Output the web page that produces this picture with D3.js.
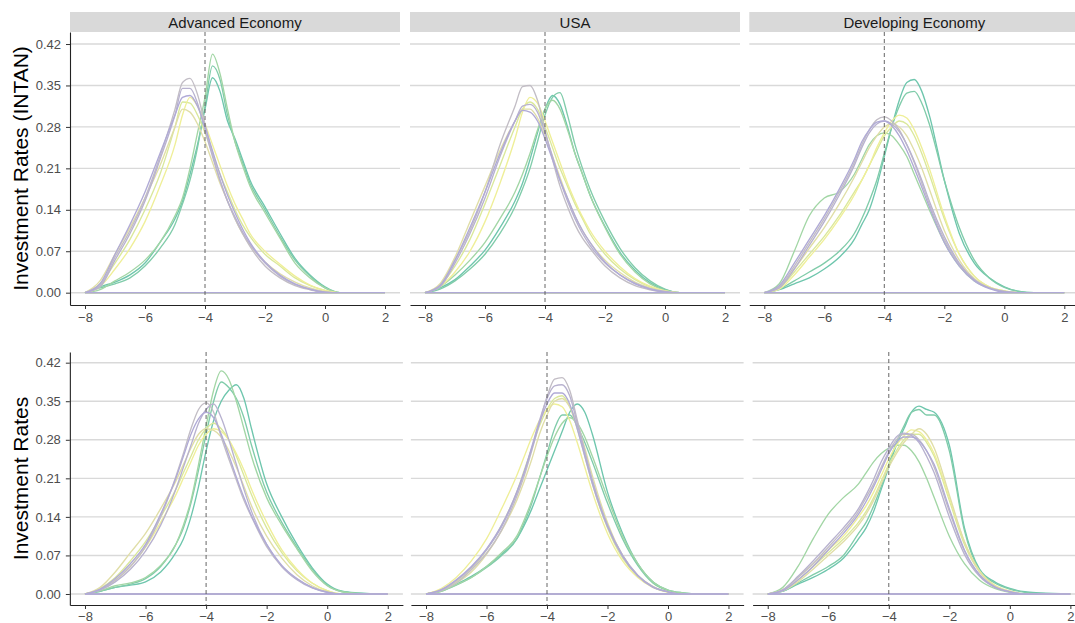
<!DOCTYPE html>
<html>
<head>
<meta charset="utf-8">
<script src="https://cdn.jsdelivr.net/npm/d3@7"></script>
<style>
body{margin:0;background:#fff}
svg{display:block}
text{font-family:Helvetica,"Liberation Sans",Arial,sans-serif}
</style>
</head>
<body>
<script>
var xGrid=[-8,-7.5,-7,-6.5,-6,-5.5,-5,-4.75,-4.5,-4.25,-4,-3.75,-3.5,-3.25,-3,-2.75,-2.5,-2,-1.5,-1,-0.5,0,0.5,1,2]
var facets=["Advanced Economy","USA","Developing Economy"]
var rowTitles=["Investment Rates (INTAN)","Investment Rates"]
var yTicks=[0,0.07,0.14,0.21,0.28,0.35,0.42]
var xTicks=[-8,-6,-4,-2,0,2]
var cutoff=-4

// top row: INTAN
var advIntan=[
 [0,0.01,0.018,0.03,0.05,0.085,0.125,0.155,0.2,0.25,0.31,0.363,0.34,0.29,0.26,0.225,0.19,0.145,0.1,0.058,0.03,0.01,0,0,0],
 [0,0.008,0.015,0.025,0.045,0.075,0.115,0.15,0.19,0.245,0.315,0.383,0.36,0.3,0.255,0.22,0.185,0.14,0.095,0.055,0.028,0.008,0,0,0],
 [0,0.005,0.02,0.035,0.055,0.085,0.13,0.16,0.21,0.27,0.33,0.403,0.37,0.31,0.255,0.215,0.18,0.135,0.092,0.05,0.025,0.008,0,0,0],
 [0,0.015,0.05,0.09,0.14,0.2,0.28,0.322,0.32,0.3,0.27,0.235,0.2,0.17,0.14,0.115,0.095,0.065,0.045,0.025,0.012,0.004,0,0,0],
 [0,0.01,0.04,0.075,0.12,0.18,0.25,0.3,0.33,0.315,0.285,0.25,0.215,0.18,0.15,0.125,0.1,0.07,0.048,0.028,0.013,0.004,0,0,0],
 [0,0.02,0.065,0.11,0.16,0.215,0.28,0.31,0.305,0.285,0.255,0.22,0.185,0.155,0.125,0.1,0.08,0.052,0.032,0.018,0.008,0.002,0,0,0],
 [0,0.012,0.06,0.105,0.16,0.23,0.31,0.355,0.362,0.335,0.285,0.235,0.19,0.155,0.125,0.1,0.078,0.045,0.025,0.012,0.005,0,0,0,0],
 [0,0.01,0.055,0.1,0.155,0.225,0.3,0.345,0.345,0.32,0.275,0.23,0.19,0.155,0.128,0.103,0.082,0.05,0.028,0.014,0.006,0.001,0,0,0],
 [0,0.015,0.065,0.115,0.17,0.235,0.3,0.33,0.333,0.315,0.28,0.24,0.2,0.165,0.135,0.108,0.085,0.052,0.03,0.015,0.006,0.001,0,0,0]
]
var usaIntan=[
 [0,0.008,0.022,0.045,0.072,0.11,0.155,0.185,0.225,0.27,0.31,0.333,0.318,0.28,0.235,0.2,0.165,0.112,0.068,0.038,0.017,0.005,0,0,0],
 [0,0.006,0.02,0.04,0.065,0.1,0.145,0.175,0.21,0.255,0.3,0.33,0.338,0.3,0.25,0.21,0.175,0.12,0.075,0.042,0.02,0.006,0,0,0],
 [0,0.01,0.03,0.055,0.085,0.125,0.17,0.2,0.235,0.275,0.31,0.325,0.31,0.275,0.235,0.2,0.165,0.11,0.065,0.035,0.015,0.004,0,0,0],
 [0,0.012,0.045,0.09,0.15,0.215,0.28,0.31,0.322,0.31,0.28,0.245,0.21,0.18,0.15,0.125,0.1,0.065,0.04,0.022,0.01,0.003,0,0,0],
 [0,0.01,0.035,0.07,0.12,0.185,0.26,0.305,0.33,0.32,0.29,0.255,0.22,0.185,0.155,0.128,0.105,0.07,0.044,0.024,0.011,0.003,0,0,0],
 [0,0.015,0.06,0.12,0.18,0.24,0.29,0.31,0.31,0.295,0.265,0.23,0.195,0.16,0.13,0.105,0.085,0.055,0.034,0.018,0.008,0.002,0,0,0],
 [0,0.012,0.055,0.105,0.17,0.25,0.315,0.348,0.35,0.325,0.275,0.225,0.18,0.145,0.115,0.092,0.075,0.045,0.025,0.012,0.005,0.001,0,0,0],
 [0,0.01,0.05,0.1,0.16,0.23,0.29,0.315,0.318,0.305,0.27,0.23,0.19,0.155,0.125,0.1,0.08,0.05,0.03,0.016,0.007,0.002,0,0,0],
 [0,0.012,0.055,0.11,0.17,0.235,0.29,0.308,0.305,0.29,0.26,0.225,0.19,0.16,0.13,0.105,0.085,0.052,0.03,0.015,0.006,0.001,0,0,0]
]
var devIntan=[
 [0,0.005,0.015,0.025,0.04,0.06,0.09,0.115,0.14,0.18,0.23,0.28,0.325,0.355,0.36,0.34,0.3,0.19,0.1,0.05,0.025,0.01,0.002,0,0],
 [0,0.006,0.02,0.035,0.05,0.07,0.1,0.125,0.155,0.19,0.235,0.28,0.315,0.337,0.34,0.32,0.285,0.19,0.11,0.055,0.025,0.009,0.002,0,0],
 [0,0.015,0.07,0.13,0.16,0.17,0.2,0.225,0.25,0.265,0.27,0.265,0.25,0.23,0.2,0.17,0.14,0.085,0.045,0.02,0.008,0.002,0,0,0],
 [0,0.008,0.035,0.065,0.095,0.13,0.17,0.19,0.215,0.24,0.265,0.28,0.29,0.285,0.265,0.235,0.2,0.125,0.065,0.028,0.01,0.003,0,0,0],
 [0,0.006,0.03,0.06,0.09,0.125,0.165,0.19,0.215,0.245,0.27,0.29,0.3,0.295,0.275,0.245,0.21,0.13,0.065,0.028,0.01,0.003,0,0,0],
 [0,0.01,0.04,0.075,0.11,0.15,0.195,0.22,0.245,0.265,0.28,0.285,0.28,0.265,0.24,0.21,0.175,0.105,0.055,0.024,0.009,0.002,0,0,0],
 [0,0.01,0.045,0.085,0.125,0.17,0.22,0.25,0.275,0.292,0.297,0.29,0.275,0.25,0.22,0.185,0.15,0.09,0.048,0.022,0.008,0.002,0,0,0],
 [0,0.008,0.04,0.08,0.12,0.165,0.215,0.245,0.27,0.285,0.29,0.285,0.272,0.25,0.222,0.19,0.155,0.095,0.05,0.022,0.008,0.002,0,0,0],
 [0,0.012,0.05,0.09,0.13,0.175,0.225,0.255,0.275,0.288,0.29,0.282,0.265,0.24,0.21,0.178,0.145,0.085,0.045,0.02,0.007,0.001,0,0,0]
]
// bottom row
var adv=[
 [0,0.005,0.012,0.016,0.022,0.04,0.075,0.1,0.14,0.195,0.26,0.315,0.35,0.37,0.38,0.355,0.3,0.2,0.14,0.09,0.048,0.018,0.005,0.002,0],
 [0,0.005,0.012,0.018,0.028,0.05,0.09,0.12,0.165,0.225,0.29,0.35,0.385,0.375,0.355,0.32,0.27,0.185,0.13,0.085,0.045,0.016,0.004,0.001,0],
 [0,0.006,0.015,0.02,0.03,0.052,0.09,0.125,0.17,0.235,0.305,0.37,0.405,0.39,0.35,0.3,0.25,0.175,0.125,0.082,0.042,0.015,0.004,0.001,0],
 [0,0.01,0.03,0.06,0.095,0.14,0.19,0.22,0.25,0.28,0.3,0.31,0.3,0.28,0.25,0.215,0.18,0.12,0.075,0.042,0.02,0.006,0,0,0],
 [0,0.008,0.025,0.05,0.085,0.13,0.18,0.21,0.24,0.27,0.29,0.3,0.295,0.28,0.255,0.225,0.19,0.13,0.08,0.045,0.02,0.006,0,0,0],
 [0,0.012,0.04,0.075,0.11,0.155,0.205,0.235,0.265,0.29,0.3,0.297,0.285,0.26,0.23,0.195,0.16,0.105,0.065,0.035,0.015,0.004,0,0,0],
 [0,0.008,0.025,0.05,0.086,0.14,0.213,0.255,0.3,0.335,0.347,0.33,0.285,0.245,0.207,0.17,0.14,0.086,0.05,0.027,0.012,0.004,0,0,0],
 [0,0.007,0.022,0.045,0.078,0.125,0.19,0.23,0.27,0.31,0.335,0.345,0.32,0.28,0.235,0.19,0.15,0.09,0.05,0.026,0.011,0.003,0,0,0],
 [0,0.009,0.028,0.055,0.09,0.145,0.21,0.25,0.29,0.318,0.33,0.32,0.29,0.252,0.212,0.175,0.142,0.09,0.052,0.028,0.012,0.003,0,0,0]
]
var usa=[
 [0,0.006,0.018,0.032,0.05,0.072,0.1,0.125,0.155,0.19,0.225,0.26,0.295,0.33,0.345,0.33,0.29,0.185,0.11,0.055,0.022,0.007,0.002,0,0],
 [0,0.005,0.016,0.03,0.048,0.07,0.1,0.13,0.165,0.21,0.255,0.3,0.325,0.325,0.305,0.275,0.24,0.165,0.1,0.052,0.02,0.006,0.001,0,0],
 [0,0.005,0.017,0.03,0.05,0.075,0.105,0.135,0.17,0.21,0.25,0.285,0.31,0.32,0.31,0.285,0.25,0.175,0.105,0.055,0.022,0.007,0.002,0,0],
 [0,0.008,0.022,0.045,0.08,0.125,0.185,0.225,0.265,0.305,0.335,0.355,0.36,0.34,0.3,0.25,0.2,0.12,0.065,0.032,0.013,0.004,0,0,0],
 [0,0.01,0.03,0.06,0.1,0.155,0.215,0.25,0.285,0.315,0.335,0.345,0.34,0.315,0.275,0.23,0.185,0.11,0.06,0.03,0.012,0.003,0,0,0],
 [0,0.007,0.02,0.04,0.072,0.115,0.17,0.205,0.245,0.29,0.325,0.35,0.355,0.34,0.31,0.265,0.215,0.13,0.07,0.034,0.014,0.004,0,0,0],
 [0,0.006,0.02,0.044,0.074,0.116,0.177,0.215,0.261,0.31,0.358,0.39,0.393,0.37,0.316,0.26,0.207,0.125,0.07,0.033,0.012,0.004,0,0,0],
 [0,0.007,0.024,0.048,0.08,0.122,0.183,0.222,0.268,0.315,0.355,0.378,0.38,0.36,0.31,0.255,0.205,0.125,0.07,0.034,0.013,0.004,0,0,0],
 [0,0.008,0.026,0.05,0.082,0.125,0.185,0.222,0.265,0.31,0.345,0.365,0.365,0.345,0.3,0.25,0.2,0.122,0.068,0.033,0.013,0.004,0,0,0]
]
var dev=[
 [0,0.005,0.018,0.03,0.045,0.065,0.1,0.12,0.15,0.19,0.23,0.27,0.3,0.33,0.341,0.335,0.33,0.27,0.12,0.045,0.022,0.01,0.004,0.002,0],
 [0,0.005,0.02,0.035,0.05,0.07,0.11,0.13,0.16,0.195,0.235,0.275,0.305,0.33,0.335,0.325,0.325,0.26,0.115,0.042,0.02,0.009,0.003,0.001,0],
 [0,0.012,0.05,0.1,0.145,0.175,0.2,0.22,0.24,0.255,0.265,0.27,0.27,0.26,0.24,0.21,0.175,0.105,0.055,0.025,0.01,0.003,0,0,0],
 [0,0.006,0.025,0.05,0.075,0.1,0.13,0.15,0.175,0.205,0.235,0.26,0.28,0.29,0.29,0.275,0.25,0.17,0.09,0.04,0.015,0.005,0,0,0],
 [0,0.008,0.03,0.055,0.08,0.105,0.14,0.16,0.185,0.215,0.245,0.27,0.287,0.298,0.295,0.28,0.255,0.175,0.095,0.042,0.016,0.005,0,0,0],
 [0,0.006,0.022,0.045,0.07,0.095,0.125,0.145,0.17,0.2,0.23,0.255,0.275,0.29,0.3,0.29,0.265,0.18,0.095,0.04,0.015,0.005,0,0,0],
 [0,0.007,0.03,0.055,0.085,0.115,0.15,0.175,0.2,0.23,0.258,0.28,0.29,0.29,0.28,0.26,0.23,0.15,0.078,0.034,0.013,0.004,0,0,0],
 [0,0.008,0.032,0.06,0.09,0.12,0.155,0.18,0.208,0.24,0.265,0.285,0.292,0.288,0.275,0.25,0.22,0.14,0.072,0.032,0.012,0.004,0,0,0],
 [0,0.006,0.026,0.05,0.08,0.11,0.145,0.168,0.195,0.225,0.255,0.275,0.285,0.285,0.278,0.26,0.235,0.155,0.08,0.035,0.013,0.004,0,0,0]
]
var panels=[[advIntan,usaIntan,devIntan],[adv,usa,dev]]

// layout of the two rows (the lower row was a slightly larger plot)
var rows=[
  {top:32,bottom:305,ydom:[-0.0208,0.4403],cols:[[70,400],[410,740],[749.3,1079.3]],strip:true,pad:4},
  {top:352,bottom:605,ydom:[-0.02,0.4394],cols:[[69.85,402.9],[410.9,743.6],[752.6,1085.5]],strip:false,pad:3}
]

// teal -> yellow -> lavender ramp, one colour per curve (drawn in that order)
var ramp=d3.scaleLinear().domain([0,0.5,1]).range(["#6ec6ad","#efef98","#b0aad6"])
var curveT=[0,0.07,0.2,0.42,0.5,0.62,0.86,0.94,1]

var svg=d3.select("body").append("svg")
  .attr("width",1075)
  .attr("height",623)

rows.forEach(function(row,r){
  var y=d3.scaleLinear().domain(row.ydom).range([row.bottom,row.top])

  row.cols.forEach(function(c,k){
    var x=d3.scaleLinear().domain([-8.5,2.5]).range(c)
    var g=svg.append("g")

    if(row.strip){
      g.append("rect")
        .attr("x",c[0]).attr("y",12)
        .attr("width",c[1]-c[0]).attr("height",20)
        .attr("fill","#d9d9d9")
      g.append("text")
        .attr("x",(c[0]+c[1])/2).attr("y",27.5)
        .attr("text-anchor","middle")
        .attr("font-size",15)
        .attr("fill","#1a1a1a")
        .text(facets[k])
    }

    // horizontal grid
    g.selectAll(".grid").data(yTicks).enter().append("line")
      .attr("x1",c[0]).attr("x2",c[1])
      .attr("y1",function(d){return y(d)})
      .attr("y2",function(d){return y(d)})
      .attr("stroke","#d9d9d9")
      .attr("stroke-width",1.4)

    // density outlines (closed at y = 0, like geom_density)
    var area=d3.area()
      .x(function(d,i){return x(xGrid[i])})
      .y0(y(0))
      .y1(function(d){return y(d)})
      .curve(d3.curveMonotoneX)

    panels[r][k].forEach(function(vals,i){
      g.append("path")
        .attr("d",area(vals))
        .attr("fill","none")
        .attr("stroke",ramp(curveT[i]))
        .attr("stroke-width",1.35)
    })

    // cutoff line
    g.append("line")
      .attr("x1",x(cutoff)).attr("x2",x(cutoff))
      .attr("y1",row.top).attr("y2",row.bottom)
      .attr("stroke","#555")
      .attr("stroke-width",0.9)
      .attr("stroke-dasharray","4,3")

    // axes: x axis on every panel, y axis only on the first column
    var axes=[]
    axes.push(g.append("g")
      .attr("transform","translate(0,"+row.bottom+")")
      .call(d3.axisBottom(x).tickValues(xTicks).tickSize(4).tickPadding(row.pad).tickSizeOuter(0)))
    if(k==0){
      axes.push(g.append("g")
        .attr("transform","translate("+c[0]+",0)")
        .call(d3.axisLeft(y).tickValues(yTicks).tickSize(4).tickPadding(5).tickSizeOuter(0)
          .tickFormat(d3.format(".2f"))))
    }
    axes.forEach(function(a){
      a.select(".domain").attr("stroke","#222").attr("stroke-width",1.1)
      a.selectAll(".tick line").attr("stroke","#333")
      a.selectAll(".tick text").attr("font-size",13).attr("fill","#4d4d4d")
        .style("font-family","Helvetica, 'Liberation Sans', Arial, sans-serif")
    })
  })

  svg.append("text")
    .attr("transform","translate(28,"+((row.top+row.bottom)/2)+") rotate(-90)")
    .attr("text-anchor","middle")
    .attr("font-size",21)
    .attr("fill","#000")
    .text(rowTitles[r])
})
</script>
</body>
</html>
